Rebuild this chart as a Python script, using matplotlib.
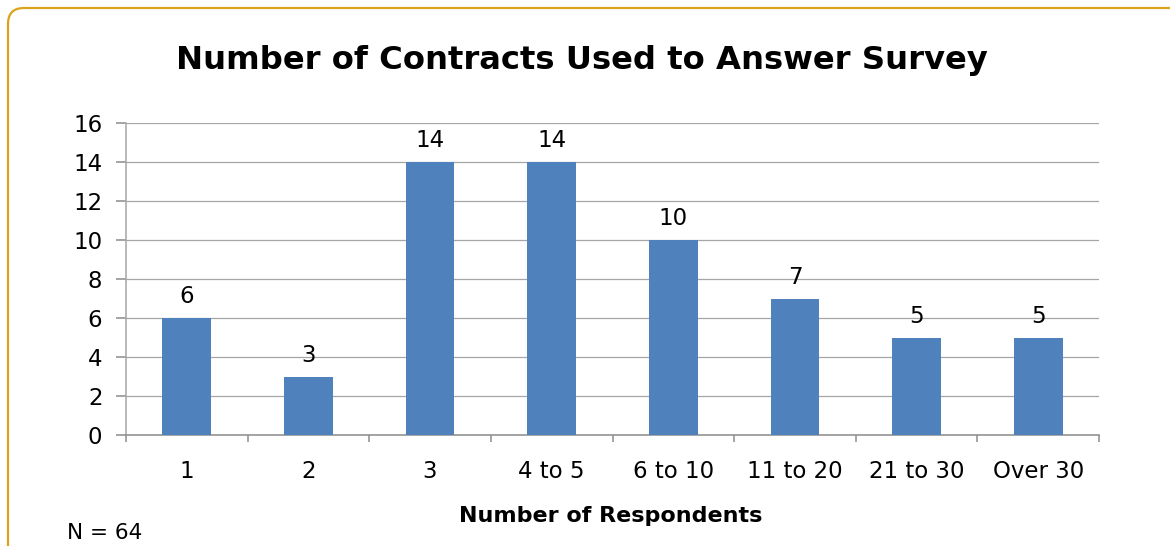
import matplotlib.pyplot as plt
from matplotlib.patches import FancyBboxPatch
from matplotlib.transforms import IdentityTransform
import numpy as np

# survey counts by number of contracts used
categories = ['1', '2', '3', '4 to 5', '6 to 10', '11 to 20', '21 to 30', 'Over 30']
counts = [6, 3, 14, 14, 10, 7, 5, 5]
y_ticks = [0, 2, 4, 6, 8, 10, 12, 14, 16]

bar_color = '#4F81BD'
grid_color = '#A6A6A6'

fig = plt.figure(figsize=(11.7, 5.46), dpi=100)
W, H = 1170, 546

# rounded frame in pixel units, running off the right and bottom edges
frame = FancyBboxPatch((8, -60), 1300, (H - 8) + 60,
                       boxstyle='round,pad=0,rounding_size=16',
                       transform=IdentityTransform(), fill=False,
                       edgecolor='#DBA31C', linewidth=1.6)
fig.patches.append(frame)

ax = fig.add_axes([126 / W, 1 - 435 / H, (1099 - 126) / W, (435 - 123) / H])

x = np.arange(len(categories))
bars = ax.bar(x, counts, width=0.4, color=bar_color, zorder=3)
for b, v in zip(bars, counts):
    ax.annotate(str(v), (b.get_x() + b.get_width() / 2, v), xytext=(0, 7),
                textcoords='offset points', ha='center', va='bottom', fontsize=16.5)

ax.set_xlim(-0.5, len(categories) - 0.5)
ax.set_ylim(0, 16)
ax.set_yticks(y_ticks)
ax.set_yticklabels([str(t) for t in y_ticks], fontsize=16.5)
ax.yaxis.grid(True, color=grid_color, linewidth=0.9, zorder=0)

# category labels centred, tick marks on the boundaries
ax.set_xticks(x)
ax.set_xticklabels(categories, fontsize=16.5)
ax.tick_params(axis='x', which='major', length=0, pad=18)
ax.set_xticks(np.arange(-0.5, len(categories)), minor=True)
ax.tick_params(axis='x', which='minor', length=5, width=1.1, color='#8C8C8C', direction='out')
ax.tick_params(axis='y', length=7, width=1.1, color='#8C8C8C', pad=10)

for side in ['top', 'right']:
    ax.spines[side].set_visible(False)
ax.spines['left'].set_color(grid_color)
ax.spines['left'].set_linewidth(1.1)
ax.spines['bottom'].set_color('#8C8C8C')
ax.spines['bottom'].set_linewidth(1.1)

fig.text(582 / W, 1 - 60 / H, 'Number of Contracts Used to Answer Survey',
         ha='center', va='center', fontsize=23.2, fontweight='bold')
fig.text(611 / W, 1 - 516 / H, 'Number of Respondents',
         ha='center', va='center', fontsize=16, fontweight='bold')
fig.text(67 / W, 1 - 533 / H, 'N = 64', ha='left', va='center', fontsize=15.5)

fig.savefig('out.png', dpi=100)
